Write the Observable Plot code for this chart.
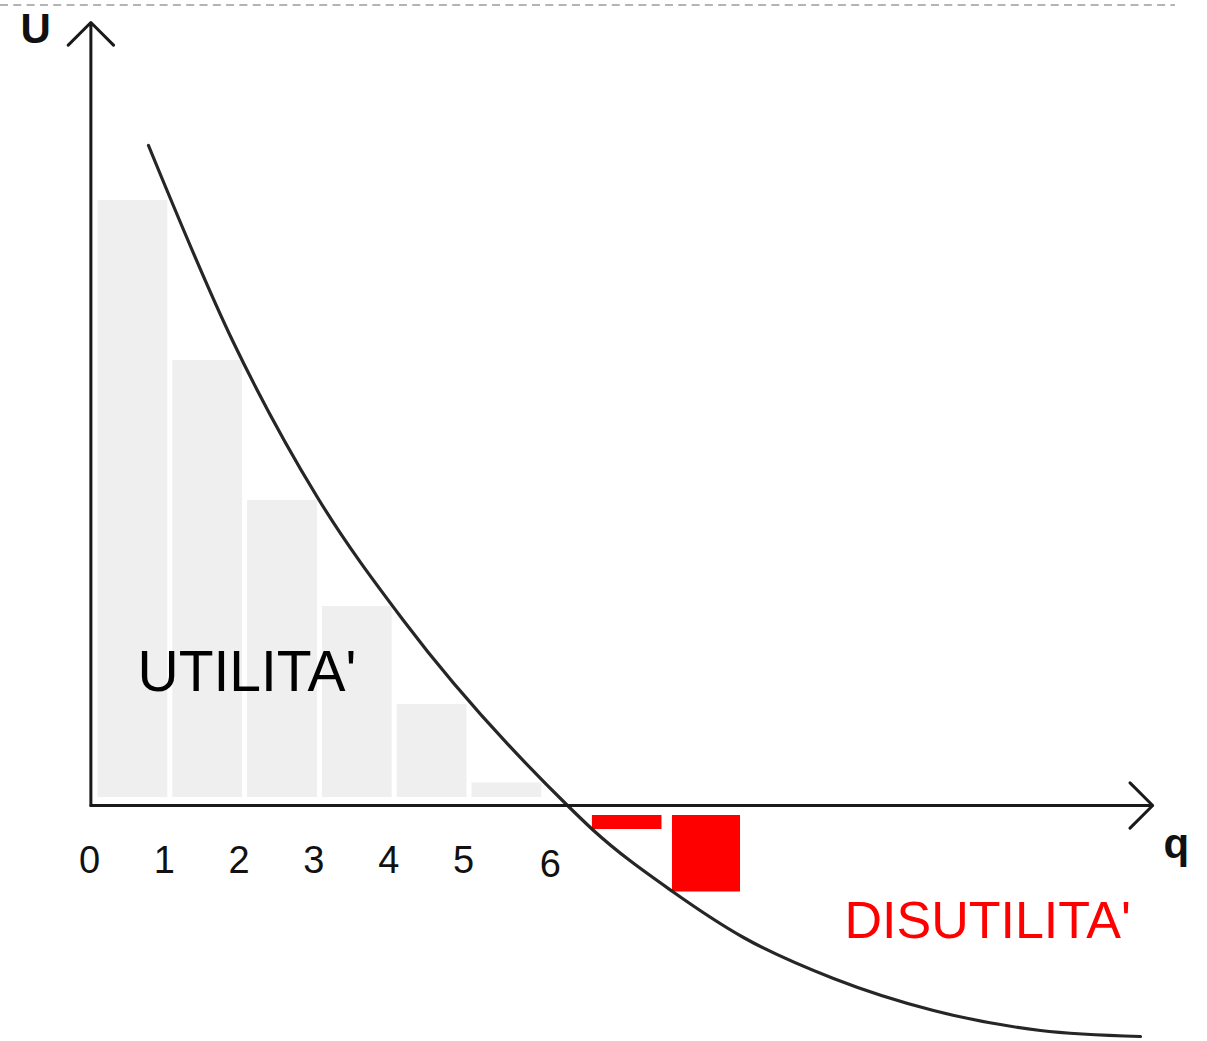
<!DOCTYPE html>
<html><head><meta charset="utf-8">
<script src="https://cdn.jsdelivr.net/npm/d3@7"></script>
<script src="https://cdn.jsdelivr.net/npm/@observablehq/plot@0.6"></script>
<style>
body{margin:0;background:#fff;}
#wrap{position:relative;width:1207px;height:1041px;overflow:hidden;}
#dash{position:absolute;left:0;top:0;}
</style>
</head><body><div id="wrap"></div>
<script>
// Utility (gray bars): unit q ends at utilityQ, height utilityU
const utilityQ = [1, 2, 3, 4, 5, 6];
const utilityU = [12.1, 8.9, 6.1, 3.98, 2.02, 0.45];
// Disutility (red bars)
const disQ0 = [6.67, 7.74];
const disQ1 = [7.6, 8.65];
const disU = [-0.48, -1.73];
// Marginal utility curve
const curveQ = [0.735, 1.858, 2.995, 4.144, 6.337, 6.671, 7.741, 8.69, 9.893, 11.23, 12.66, 13.997];
const curveU = [13.2, 9.3, 6.16, 3.7, 0, -0.48, -1.72, -2.64, -3.46, -4.1, -4.5, -4.62];
const tickLabels = ["0", "1", "2", "3", "4", "5", "6"];
// axis extents
const qMax = 14.16, uMax = 15.66, axisQ = -0.035;

const bars = utilityQ.map((q, i) => ({q0: q - 1, q1: q, u: utilityU[i]}));
const red = disQ0.map((q, i) => ({q0: q, q1: disQ1[i], u: disU[i]}));
const curve = curveQ.map((q, i) => ({q, u: curveU[i]}));
const axes = [
  {x1: axisQ, y1: 0, x2: qMax, y2: 0},
  {x1: axisQ, y1: 0, x2: axisQ, y2: uMax}
];
const font = "Liberation Sans, Arial, sans-serif";

const chart = Plot.plot({
  width: 1207,
  height: 1041,
  margin: 0,
  x: {domain: [0, 10], range: [93, 841], axis: null},
  y: {domain: [0, 10], range: [805, 305], axis: null},
  style: {background: "white", fontFamily: font},
  marks: [
    Plot.rect(bars, {x1: "q0", x2: "q1", y1: () => 0, y2: "u", fill: "#efefef", insetLeft: 4.5, insetRight: 0.5, insetBottom: 8}),
    Plot.rect(red, {x1: "q0", x2: "q1", y1: () => 0, y2: "u", fill: "#ff0000", insetTop: 10}),
    Plot.text(["UTILITA'"], {x: () => 0.588, y: () => 2.3, text: d => d, textAnchor: "start", lineAnchor: "bottom", fontSize: 57, fill: "#000", fontFamily: font}),
    Plot.text(["DISUTILITA'"], {x: () => 10.04, y: () => -2.64, text: d => d, textAnchor: "start", lineAnchor: "bottom", fontSize: 52, fill: "#ff0000", fontFamily: font}),
    Plot.text(tickLabels.slice(0, 6), {x: (d, i) => i, y: () => -1.34, text: d => d, textAnchor: "middle", lineAnchor: "bottom", fontSize: 38, dx: -4, fill: "#111", fontFamily: font}),
    Plot.text(tickLabels.slice(6), {x: () => 6, y: () => -1.34, text: d => d, textAnchor: "middle", lineAnchor: "bottom", fontSize: 38, dx: 8, dy: 4, fill: "#111", fontFamily: font}),
    Plot.text(["U"], {x: () => -0.976, y: () => 15.26, text: d => d, textAnchor: "start", lineAnchor: "bottom", fontSize: 42, fontWeight: "bold", fill: "#111", fontFamily: font}),
    Plot.text(["q"], {x: () => 14.305, y: () => -1.04, text: d => d, textAnchor: "start", lineAnchor: "bottom", fontSize: 42, fontWeight: "bold", fill: "#111", fontFamily: font}),
    Plot.line(curve, {x: "q", y: "u", curve: "monotone-x", stroke: "#262626", strokeWidth: 3.2}),
    Plot.arrow(axes, {x1: "x1", y1: "y1", x2: "x2", y2: "y2", stroke: "#1a1a1a", strokeWidth: 3, headAngle: 90, headLength: 16, strokeLinecap: "round"})
  ]
});
const wrap = document.getElementById("wrap");
wrap.appendChild(chart);
wrap.insertAdjacentHTML("beforeend", '<svg id="dash" width="1207" height="12"><line x1="0" y1="5" x2="1175" y2="5" stroke="#b4b4b4" stroke-width="2" stroke-dasharray="8 5.3"/></svg>');
</script>
</body></html>
